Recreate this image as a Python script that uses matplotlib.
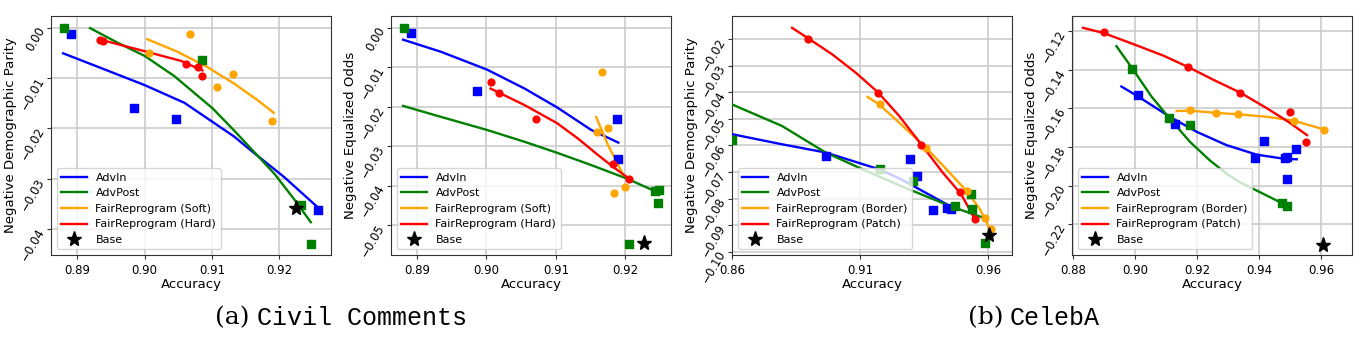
import numpy as np
import matplotlib
matplotlib.use('Agg')
from matplotlib import pyplot as plt

# ---------------- (a) Civil Comments: Demographic Parity ----------------
cc_dp_advin_x = [0.8891, 0.8985, 0.9046, 0.9258]
cc_dp_advin_y = [-0.0013, -0.0159, -0.0181, -0.0361]
cc_dp_advin_fit_x = [0.8879, 0.8935, 0.9000, 0.9059, 0.9101, 0.9133, 0.9163, 0.9207, 0.9257]
cc_dp_advin_fit_y = [-0.0051, -0.0080, -0.0114, -0.0149, -0.0187, -0.0216, -0.0249, -0.0296, -0.0356]

cc_dp_advpost_x = [0.8880, 0.9085, 0.9232, 0.9247]
cc_dp_advpost_y = [0.0000, -0.0065, -0.0351, -0.0429]
cc_dp_advpost_fit_x = [0.8919, 0.8960, 0.9000, 0.9044, 0.9101, 0.9133, 0.9163, 0.9193, 0.9222, 0.9247]
cc_dp_advpost_fit_y = [-0.0001, -0.0030, -0.0056, -0.0096, -0.0160, -0.0204, -0.0247, -0.0290, -0.0340, -0.0386]

cc_dp_soft_x = [0.9068, 0.9006, 0.9131, 0.9108, 0.9190]
cc_dp_soft_y = [-0.0013, -0.0050, -0.0092, -0.0118, -0.0186]
cc_dp_soft_fit_x = [0.9004, 0.9049, 0.9093, 0.9133, 0.9168, 0.9192]
cc_dp_soft_fit_y = [-0.0023, -0.0048, -0.0078, -0.0111, -0.0144, -0.0169]

cc_dp_hard_x = [0.8934, 0.8938, 0.9061, 0.9080, 0.9085]
cc_dp_hard_y = [-0.0025, -0.0026, -0.0072, -0.0078, -0.0096]
cc_dp_hard_fit_x = [0.8932, 0.9009, 0.9054, 0.9086]
cc_dp_hard_fit_y = [-0.0023, -0.0050, -0.0066, -0.0085]

cc_dp_base = (0.9225, -0.0357)

# ---------------- (a) Civil Comments: Equalized Odds ----------------
cc_eo_advin_x = [0.8892, 0.8986, 0.9188, 0.9189]
cc_eo_advin_y = [-0.0014, -0.0159, -0.0231, -0.0333]
cc_eo_advin_fit_x = [0.8880, 0.8935, 0.9001, 0.9055, 0.9102, 0.9151, 0.9190]
cc_eo_advin_fit_y = [-0.0030, -0.0061, -0.0106, -0.0154, -0.0202, -0.0259, -0.0291]

cc_eo_advpost_x = [0.8881, 0.9243, 0.9248, 0.9247, 0.9206]
cc_eo_advpost_y = [0.0000, -0.0413, -0.0411, -0.0443, -0.0547]
cc_eo_advpost_fit_x = [0.8880, 0.8935, 0.9001, 0.9055, 0.9102, 0.9151, 0.9202, 0.9245]
cc_eo_advpost_fit_y = [-0.0198, -0.0226, -0.0259, -0.0289, -0.0317, -0.0348, -0.0382, -0.0416]

cc_eo_soft_x = [0.9167, 0.9159, 0.9175, 0.9183, 0.9200]
cc_eo_soft_y = [-0.0113, -0.0265, -0.0255, -0.0419, -0.0403]
cc_eo_soft_fit_x = [0.9158, 0.9175, 0.9197]
cc_eo_soft_fit_y = [-0.0226, -0.0297, -0.0373]

cc_eo_hard_x = [0.9007, 0.9018, 0.9071, 0.9182, 0.9205]
cc_eo_hard_y = [-0.0138, -0.0164, -0.0231, -0.0345, -0.0384]
cc_eo_hard_fit_x = [0.9006, 0.9055, 0.9102, 0.9132, 0.9161, 0.9185, 0.9202]
cc_eo_hard_fit_y = [-0.0154, -0.0196, -0.0242, -0.0281, -0.0323, -0.0356, -0.0378]

cc_eo_base = (0.9227, -0.0545)

# ---------------- (b) CelebA: Demographic Parity ----------------
ca_dp_advin_x = [0.8966, 0.9295, 0.9322, 0.9386, 0.9439, 0.9456]
ca_dp_advin_y = [-0.0639, -0.0651, -0.0715, -0.0843, -0.0834, -0.0839]
ca_dp_advin_fit_x = [0.8600, 0.8795, 0.8966, 0.9175, 0.9260, 0.9451]
ca_dp_advin_fit_y = [-0.0558, -0.0596, -0.0627, -0.0690, -0.0727, -0.0828]

ca_dp_advpost_x = [0.8600, 0.9177, 0.9309, 0.9535, 0.9472, 0.9540, 0.9587]
ca_dp_advpost_y = [-0.0580, -0.0690, -0.0733, -0.0783, -0.0828, -0.0838, -0.0966]
ca_dp_advpost_fit_x = [0.8600, 0.8795, 0.8966, 0.9110, 0.9260, 0.9451, 0.9582]
ca_dp_advpost_fit_y = [-0.0446, -0.0527, -0.0627, -0.0690, -0.0753, -0.0828, -0.0872]

ca_dp_border_x = [0.9177, 0.9358, 0.9519, 0.9590, 0.9611]
ca_dp_border_y = [-0.0446, -0.0611, -0.0773, -0.0872, -0.0916]
ca_dp_border_fit_x = [0.9130, 0.9175, 0.9254, 0.9359, 0.9438, 0.9516, 0.9569, 0.9614]
ca_dp_border_fit_y = [-0.0418, -0.0446, -0.0515, -0.0609, -0.0690, -0.0771, -0.0840, -0.0928]

ca_dp_patch_x = [0.8899, 0.9171, 0.9338, 0.9493, 0.9548]
ca_dp_patch_y = [-0.0200, -0.0403, -0.0599, -0.0776, -0.0877]
ca_dp_patch_fit_x = [0.8835, 0.8900, 0.8992, 0.9084, 0.9169, 0.9254, 0.9339, 0.9424, 0.9496, 0.9549]
ca_dp_patch_fit_y = [-0.0158, -0.0199, -0.0258, -0.0327, -0.0399, -0.0490, -0.0596, -0.0703, -0.0784, -0.0878]

ca_dp_base = (0.9604, -0.0938)

# ---------------- (b) CelebA: Equalized Odds ----------------
ca_eo_advin_x = [0.9008, 0.9128, 0.9386, 0.9415, 0.9484, 0.9488, 0.9517, 0.9489]
ca_eo_advin_y = [-0.1529, -0.1682, -0.1856, -0.1769, -0.1859, -0.1852, -0.1809, -0.1964]
ca_eo_advin_fit_x = [0.8956, 0.9010, 0.9112, 0.9199, 0.9295, 0.9392, 0.9478, 0.9521]
ca_eo_advin_fit_y = [-0.1487, -0.1539, -0.1644, -0.1722, -0.1791, -0.1840, -0.1861, -0.1864]

ca_eo_advpost_x = [0.8991, 0.9110, 0.9176, 0.9473, 0.9489]
ca_eo_advpost_y = [-0.1398, -0.1652, -0.1684, -0.2089, -0.2106]
ca_eo_advpost_fit_x = [0.8940, 0.8994, 0.9053, 0.9107, 0.9177, 0.9241, 0.9295, 0.9338, 0.9403, 0.9468, 0.9489]
ca_eo_advpost_fit_y = [-0.1278, -0.1400, -0.1539, -0.1644, -0.1774, -0.1870, -0.1939, -0.1983, -0.2035, -0.2087, -0.2104]

ca_eo_border_x = [0.9177, 0.9262, 0.9333, 0.9513, 0.9608]
ca_eo_border_y = [-0.1609, -0.1623, -0.1631, -0.1664, -0.1713]
ca_eo_border_fit_x = [0.9134, 0.9177, 0.9263, 0.9333, 0.9425, 0.9511, 0.9597, 0.9608]
ca_eo_border_fit_y = [-0.1614, -0.1612, -0.1624, -0.1631, -0.1644, -0.1664, -0.1704, -0.1711]

ca_eo_patch_x = [0.8899, 0.9170, 0.9338, 0.9498, 0.9550]
ca_eo_patch_y = [-0.1207, -0.1386, -0.1520, -0.1617, -0.1777]
ca_eo_patch_fit_x = [0.8832, 0.8897, 0.8999, 0.9091, 0.9171, 0.9252, 0.9338, 0.9425, 0.9494, 0.9554]
ca_eo_patch_fit_y = [-0.1183, -0.1209, -0.1270, -0.1327, -0.1386, -0.1452, -0.1518, -0.1600, -0.1670, -0.1739]

ca_eo_base = (0.9604, -0.2308)

colors = {'AdvIn': 'blue', 'AdvPost': 'green', 'soft': 'orange', 'hard': 'red'}


def draw(ax, advin, advpost, fr1, fr2, base, fr_names):
    series = [
        (advin, 'AdvIn', colors['AdvIn'], 's'),
        (advpost, 'AdvPost', colors['AdvPost'], 's'),
        (fr1, fr_names[0], colors['soft'], 'o'),
        (fr2, fr_names[1], colors['hard'], 'o'),
    ]
    for (px, py, fx, fy), label, c, m in series:
        ax.plot(fx, fy, color=c, lw=1.7, label=label, zorder=3)
        ax.scatter(px, py, color=c, marker=m, s=30 if m == 's' else 24, zorder=4)
    ax.plot(base[0], base[1], '*', color='black', ms=11, ls='none', label='Base', zorder=5)
    ax.grid(True, color='#cccccc', lw=1.2)
    ax.set_axisbelow(True)
    for s in ax.spines.values():
        s.set_color('#333333')
    ax.tick_params(axis='both', labelsize=8.5, length=3, color='#333333')
    plt.setp(ax.get_yticklabels(), rotation=60, rotation_mode='anchor', ha='right', va='center')
    ax.set_xlabel('Accuracy', fontsize=9.5, labelpad=1)
    ax.legend(loc='lower left', fontsize=8, framealpha=0.8, handlelength=2.3)


fig = plt.figure(figsize=(13.62, 3.44), dpi=100)
lefts = [51, 391, 732, 1072]
axes = [fig.add_axes([l / 1362, 89 / 344, 280 / 1362, 239 / 344]) for l in lefts]

soft_hard = ['FairReprogram (Soft)', 'FairReprogram (Hard)']
border_patch = ['FairReprogram (Border)', 'FairReprogram (Patch)']

ax = axes[0]
ax.set_xlim(0.8861, 0.9277)
ax.set_ylim(-0.0451, 0.0023)
ax.set_xticks([0.89, 0.90, 0.91, 0.92])
ax.set_yticks([0.0, -0.01, -0.02, -0.03, -0.04])
ax.set_yticklabels(['0.00', '\u22120.01', '\u22120.02', '\u22120.03', '\u22120.04'])
draw(ax,
     (cc_dp_advin_x, cc_dp_advin_y, cc_dp_advin_fit_x, cc_dp_advin_fit_y),
     (cc_dp_advpost_x, cc_dp_advpost_y, cc_dp_advpost_fit_x, cc_dp_advpost_fit_y),
     (cc_dp_soft_x, cc_dp_soft_y, cc_dp_soft_fit_x, cc_dp_soft_fit_y),
     (cc_dp_hard_x, cc_dp_hard_y, cc_dp_hard_fit_x, cc_dp_hard_fit_y),
     cc_dp_base, soft_hard)
ax.set_ylabel('Negative Demographic Parity', fontsize=9.5, labelpad=1)

ax = axes[1]
ax.set_xlim(0.88626, 0.92658)
ax.set_ylim(-0.0576, 0.0030)
ax.set_xticks([0.89, 0.90, 0.91, 0.92])
ax.set_yticks([0.0, -0.01, -0.02, -0.03, -0.04, -0.05])
ax.set_yticklabels(['0.00', '\u22120.01', '\u22120.02', '\u22120.03', '\u22120.04', '\u22120.05'])
draw(ax,
     (cc_eo_advin_x, cc_eo_advin_y, cc_eo_advin_fit_x, cc_eo_advin_fit_y),
     (cc_eo_advpost_x, cc_eo_advpost_y, cc_eo_advpost_fit_x, cc_eo_advpost_fit_y),
     (cc_eo_soft_x, cc_eo_soft_y, cc_eo_soft_fit_x, cc_eo_soft_fit_y),
     (cc_eo_hard_x, cc_eo_hard_y, cc_eo_hard_fit_x, cc_eo_hard_fit_y),
     cc_eo_base, soft_hard)
ax.set_ylabel('Negative Equalized Odds', fontsize=9.5, labelpad=1)

ax = axes[2]
ax.set_xlim(0.86, 0.96944)
ax.set_ylim(-0.10125, -0.01135)
ax.set_xticks([0.86, 0.91, 0.96])
yt = [-0.02, -0.03, -0.04, -0.05, -0.06, -0.07, -0.08, -0.09, -0.10]
ax.set_yticks(yt)
ax.set_yticklabels(['\u2212%.2f' % abs(v) for v in yt])
draw(ax,
     (ca_dp_advin_x, ca_dp_advin_y, ca_dp_advin_fit_x, ca_dp_advin_fit_y),
     (ca_dp_advpost_x, ca_dp_advpost_y, ca_dp_advpost_fit_x, ca_dp_advpost_fit_y),
     (ca_dp_border_x, ca_dp_border_y, ca_dp_border_fit_x, ca_dp_border_fit_y),
     (ca_dp_patch_x, ca_dp_patch_y, ca_dp_patch_fit_x, ca_dp_patch_fit_y),
     ca_dp_base, border_patch)
ax.set_ylabel('Negative Demographic Parity', fontsize=9.5, labelpad=1)

ax = axes[3]
ax.set_xlim(0.87968, 0.9699)
ax.set_ylim(-0.2360, -0.11217)
ax.set_xticks([0.88, 0.90, 0.92, 0.94, 0.96])
yt = [-0.12, -0.14, -0.16, -0.18, -0.20, -0.22]
ax.set_yticks(yt)
ax.set_yticklabels(['\u2212%.2f' % abs(v) for v in yt])
draw(ax,
     (ca_eo_advin_x, ca_eo_advin_y, ca_eo_advin_fit_x, ca_eo_advin_fit_y),
     (ca_eo_advpost_x, ca_eo_advpost_y, ca_eo_advpost_fit_x, ca_eo_advpost_fit_y),
     (ca_eo_border_x, ca_eo_border_y, ca_eo_border_fit_x, ca_eo_border_fit_y),
     (ca_eo_patch_x, ca_eo_patch_y, ca_eo_patch_fit_x, ca_eo_patch_fit_y),
     ca_eo_base, border_patch)
ax.set_ylabel('Negative Equalized Odds', fontsize=9.5, labelpad=1)

# captions
cap_y = 1 - 318 / 344
fig.text(215 / 1362, cap_y, '(a)', fontsize=18, family='DejaVu Serif', ha='left', va='center')
fig.text(257 / 1362, cap_y, 'Civil Comments', fontsize=18, family='Liberation Mono', ha='left', va='center')
fig.text(968 / 1362, cap_y, '(b)', fontsize=18, family='DejaVu Serif', ha='left', va='center')
fig.text(1010 / 1362, cap_y, 'CelebA', fontsize=18, family='Liberation Mono', ha='left', va='center')

fig.savefig('out.png', dpi=100)
